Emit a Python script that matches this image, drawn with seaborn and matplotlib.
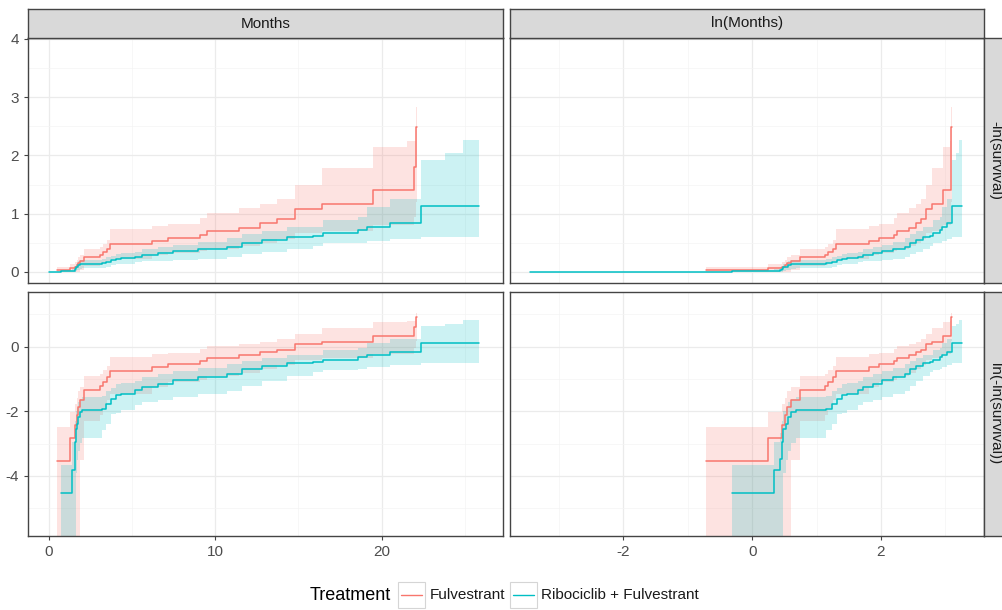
import numpy as np
import pandas as pd
import matplotlib
matplotlib.use("Agg")
import matplotlib.pyplot as plt
import seaborn as sns
from matplotlib.patches import Rectangle
from matplotlib.lines import Line2D

# ---------------- data ----------------
treatments = ["Fulvestrant", "Ribociclib + Fulvestrant"]
palette = ["#F8766D", "#00BFC4"]

fulv_time = [0.49, 1.28, 1.58, 1.66, 1.72, 1.84, 2.10, 3.09, 3.26, 3.52, 3.67, 6.17, 7.18,
             9.08, 9.48, 11.45, 12.69, 13.69, 14.79, 16.40, 19.46, 21.50, 21.95, 22.05, 22.15]
fulv_cumhaz = [0.029, 0.059, 0.088, 0.119, 0.155, 0.190, 0.264, 0.293, 0.335, 0.391, 0.475, 0.538, 0.578,
               0.635, 0.700, 0.760, 0.835, 0.905, 1.076, 1.167, 1.410, 1.410, 1.810, 2.490, 2.490]
fulv_upper = [0.083, 0.133, 0.170, 0.205, 0.250, 0.290, 0.400, 0.430, 0.480, 0.550, 0.733, 0.790, 0.830,
              0.920, 1.020, 1.090, 1.170, 1.250, 1.490, 1.780, 2.150, 2.240, 2.240, 2.840, 2.840]
fulv_lower = [0.0, 0.0, 0.0, 0.0, 0.0, 0.030, 0.100, 0.120, 0.150, 0.190, 0.230, 0.290, 0.330,
              0.360, 0.400, 0.440, 0.500, 0.560, 0.660, 0.700, 0.800, 0.800, 0.950, 1.200, 1.200]

ribo_time = [0.032, 0.73, 1.40, 1.54, 1.58, 1.62, 1.69, 1.75, 1.84, 1.99, 3.17, 3.43, 3.71, 4.01, 4.33,
             5.19, 5.61, 6.55, 7.46, 8.94, 10.70, 11.60, 12.80, 14.30, 15.90, 16.50, 18.60, 19.10,
             20.50, 22.35, 23.80, 24.90, 25.86]
ribo_cumhaz = [0.0, 0.0109, 0.0218, 0.0312, 0.0523, 0.079, 0.092, 0.113, 0.132, 0.139, 0.147, 0.171, 0.200,
               0.222, 0.233, 0.259, 0.287, 0.318, 0.353, 0.391, 0.434, 0.496, 0.550, 0.595, 0.618, 0.664,
               0.720, 0.778, 0.847, 1.133, 1.133, 1.133, 1.133]
ribo_upper = [0.0, 0.0254, 0.052, 0.068, 0.100, 0.135, 0.150, 0.180, 0.200, 0.210, 0.220, 0.250, 0.280,
              0.310, 0.320, 0.350, 0.390, 0.430, 0.470, 0.520, 0.580, 0.650, 0.710, 0.780, 0.780, 0.890,
              0.950, 1.120, 1.250, 1.920, 2.040, 2.270, 2.270]
ribo_lower = [0.0, 0.0, 0.0, 0.0, 0.0, 0.020, 0.030, 0.040, 0.050, 0.060, 0.075, 0.090, 0.126,
              0.130, 0.140, 0.165, 0.180, 0.190, 0.210, 0.230, 0.250, 0.300, 0.340, 0.400, 0.450, 0.490,
              0.500, 0.530, 0.560, 0.595, 0.595, 0.595, 0.595]

col_labels = ["Months", "ln(Months)"]
row_labels = ["-ln(survival)", "ln(-ln(survival))"]
x_major = [[0, 10, 20], [-2, 0, 2]]
x_minor = [[5, 15, 25], [-3, -1, 1, 3]]
y_major = [[0, 1, 2, 3, 4], [-4, -2, 0]]
y_minor = [[0.5, 1.5, 2.5, 3.5], [-5, -3, -1, 1]]
x_lims = [(-1.26, 27.3), (-3.76, 3.60)]
y_lims = [(-0.19, 4.017), (-5.86, 1.69)]

# ---------------- frame ----------------
frames = []
for name, t, h, lo, hi in [
        (treatments[0], fulv_time, fulv_cumhaz, fulv_lower, fulv_upper),
        (treatments[1], ribo_time, ribo_cumhaz, ribo_lower, ribo_upper)]:
    frames.append(pd.DataFrame({"Treatment": name, "time": t, "H": h, "lo": lo, "hi": hi}))
df = pd.concat(frames, ignore_index=True)
tiny = 1e-12
df["ln_time"] = np.log(df["time"])
df["ln_H"] = np.log(df["H"].clip(lower=tiny))
df["ln_lo"] = np.log(df["lo"].clip(lower=tiny))
df["ln_hi"] = np.log(df["hi"].clip(lower=tiny))

# ---------------- style ----------------
sns.set_theme(style="white")
plt.rcParams["font.family"] = ["Liberation Sans", "DejaVu Sans"]
plt.rcParams["axes.unicode_minus"] = False

W, Hpx = 1002, 610
fig = plt.figure(figsize=(W / 100, Hpx / 100), dpi=100)
fig.patch.set_facecolor("white")


def fr(x0, y0, x1, y1):
    return [x0 / W, 1 - y1 / Hpx, (x1 - x0) / W, (y1 - y0) / Hpx]


panel_px = {(0, 0): (28, 38, 503, 283), (0, 1): (510, 38, 984, 283),
            (1, 0): (28, 292, 503, 536), (1, 1): (510, 292, 984, 536)}
border = "#444444"

xcols = ["time", "ln_time"]
ycols = [("H", "lo", "hi"), ("ln_H", "ln_lo", "ln_hi")]

for (r, c), box in panel_px.items():
    ax = fig.add_axes(fr(*box))
    ax.set_facecolor("white")
    xc = xcols[c]
    yc, loc, hic = ycols[r]
    for name, col in zip(treatments, palette):
        sub = df[df["Treatment"] == name]
        ax.fill_between(sub[xc], sub[loc], sub[hic], step="post", color=col,
                        alpha=0.2, linewidth=0, zorder=2)
    dline = df if r == 0 else df[df["H"] > 0]
    sns.lineplot(data=dline, x=xc, y=yc, hue="Treatment", hue_order=treatments,
                 palette=palette, estimator=None, sort=False, drawstyle="steps-post",
                 linewidth=1.1, legend=False, ax=ax, zorder=3)
    ax.set_xlim(*x_lims[c])
    ax.set_ylim(*y_lims[r])
    ax.set_xticks(x_major[c])
    ax.set_xticks(x_minor[c], minor=True)
    ax.set_yticks(y_major[r])
    ax.set_yticks(y_minor[r], minor=True)
    ax.grid(which="major", color="#EBEBEB", linewidth=0.9, zorder=0)
    ax.grid(which="minor", color="#F4F4F4", linewidth=0.5, zorder=0)
    ax.set_axisbelow(True)
    ax.set_xlabel("")
    ax.set_ylabel("")
    for s in ax.spines.values():
        s.set_color(border)
        s.set_linewidth(1.0)
    ax.tick_params(which="minor", length=0)
    ax.tick_params(which="major", length=3, width=0.8, color=border,
                   labelcolor="#4D4D4D", labelsize=11, pad=3.5)
    ax.tick_params(axis="x", bottom=(r == 1), labelbottom=(r == 1))
    ax.tick_params(axis="y", left=(c == 0), labelleft=(c == 0))

    # top strips
    if r == 0:
        x0, y0, x1, y1 = box
        sax = fig.add_axes(fr(x0, 9, x1, 38))
        sax.set_facecolor("#D9D9D9")
        sax.set_xticks([])
        sax.set_yticks([])
        for s in sax.spines.values():
            s.set_color(border)
            s.set_linewidth(1.0)
        sax.text(0.5, 0.5, col_labels[c], ha="center", va="center",
                 fontsize=11, color="#1A1A1A", transform=sax.transAxes)
    # right strips
    if c == 1:
        x0, y0, x1, y1 = box
        sax = fig.add_axes(fr(984, y0, 1006, y1))
        sax.set_facecolor("#D9D9D9")
        sax.set_xticks([])
        sax.set_yticks([])
        for s in sax.spines.values():
            s.set_color(border)
            s.set_linewidth(1.0)
        fig.text(995 / W, 1 - (y0 + y1) / 2 / Hpx, row_labels[r], rotation=-90,
                 ha="center", va="center", fontsize=11, color="#1A1A1A")

# ---------------- legend ----------------
ly = 1 - 595 / Hpx
fig.text(310 / W, ly, "Treatment", ha="left", va="center", fontsize=13, color="black")
key_x = [398, 510]
lab_x = [430, 541]
for kx, lx, name, col in zip(key_x, lab_x, treatments, palette):
    fig.patches.append(Rectangle((kx / W, 1 - 608 / Hpx), 27 / W, 26 / Hpx,
                                 transform=fig.transFigure, facecolor="white",
                                 edgecolor="#D5D5D5", linewidth=0.8))
    fig.lines.append(Line2D([(kx + 3) / W, (kx + 24) / W], [ly, ly],
                            transform=fig.transFigure, color=col, linewidth=1.0))
    fig.text(lx / W, ly, name, ha="left", va="center", fontsize=11, color="#1A1A1A")

fig.savefig("out.png", dpi=100, facecolor="white")
